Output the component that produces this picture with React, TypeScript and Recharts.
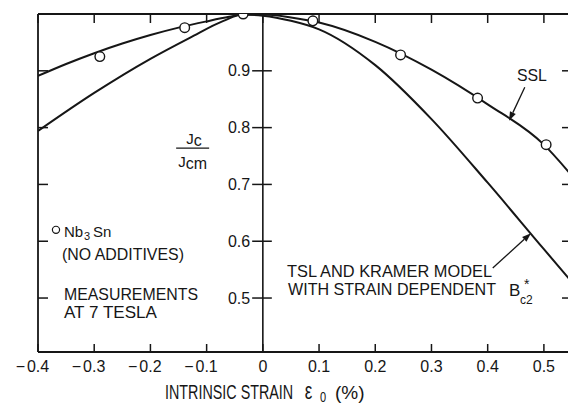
import React from 'react';
import {
  ComposedChart,
  Line,
  Scatter,
  XAxis,
  YAxis,
  ReferenceLine,
  ReferenceDot,
} from 'recharts';

// axis ticks: intrinsic strain (%) and Jc/Jcm
const strainTicks = [-0.4, -0.3, -0.2, -0.1, 0, 0.1, 0.2, 0.3, 0.4, 0.5];
const jcTicks = [0.5, 0.6, 0.7, 0.8, 0.9];

// SSL curve
const sslStrain = [-0.4, -0.35, -0.3, -0.25, -0.2, -0.15, -0.1, -0.06, -0.035, 0, 0.05, 0.1, 0.2, 0.3, 0.4, 0.5, 0.55];
const sslJc = [0.891, 0.912, 0.931, 0.948, 0.963, 0.976, 0.987, 0.995, 0.999, 0.999, 0.994, 0.985, 0.951, 0.902, 0.841, 0.77, 0.715];

// TSL and Kramer model with strain dependent Bc2*
const tslStrain = [-0.4, -0.3, -0.2, -0.13, -0.07, -0.035, 0, 0.05, 0.1, 0.2, 0.3, 0.4, 0.5, 0.55];
const tslJc = [0.794, 0.861, 0.921, 0.958, 0.988, 0.999, 0.997, 0.988, 0.973, 0.91, 0.815, 0.703, 0.586, 0.528];

// Nb3Sn (no additives), measured at 7 T
const measStrain = [-0.29, -0.139, -0.035, 0.089, 0.245, 0.382, 0.504];
const measJc = [0.925, 0.976, 1.0, 0.988, 0.928, 0.852, 0.77];

const INK = '#161616';
const FONT = "'Liberation Sans', Arial, sans-serif";

const toRows = (xs: number[], ys: number[]) => xs.map((x, i) => ({ strain: x, jc: ys[i] }));
const sslData = toRows(sslStrain, sslJc);
const tslData = toRows(tslStrain, tslJc);
const measData = toRows(measStrain, measJc);

const txt = { fontFamily: FONT, fill: INK };

const BottomTick = ({ x, y, payload }: any) => {
  const v = payload.value as number;
  return (
    <g>
      <line x1={x} y1={y} x2={x} y2={y - 8} stroke={INK} strokeWidth={1.5} />
      {v < 0 && (
        <text x={x - 13} y={y + 20} textAnchor="end" fontSize={16} {...txt}>
          −
        </text>
      )}
      <text x={x} y={y + 20} textAnchor="middle" fontSize={16} {...txt}>
        {Math.abs(v)}
      </text>
    </g>
  );
};

const TopTick = ({ x, y }: any) => (
  <line x1={x} y1={y} x2={x} y2={y + 9} stroke={INK} strokeWidth={1.5} />
);

const LeftTick = ({ x, y }: any) => (
  <line x1={x} y1={y} x2={x + 10} y2={y} stroke={INK} strokeWidth={1.5} />
);

const RightTick = ({ x, y }: any) => (
  <line x1={x} y1={y} x2={x - 10} y2={y} stroke={INK} strokeWidth={1.5} />
);

// arrow drawn between the two segment ends
const Arrow = (p: any) => {
  const { x1, y1, x2, y2 } = p;
  const a = Math.atan2(y2 - y1, x2 - x1);
  const bx = x2 - 9 * Math.cos(a);
  const by = y2 - 9 * Math.sin(a);
  const nx = -Math.sin(a) * 3.2;
  const ny = Math.cos(a) * 3.2;
  return (
    <g>
      <line x1={x1} y1={y1} x2={bx} y2={by} stroke={INK} strokeWidth={1.3} />
      <polygon points={`${x2},${y2} ${bx + nx},${by + ny} ${bx - nx},${by - ny}`} fill={INK} />
    </g>
  );
};

const Note = ({ viewBox, children }: any) => (
  <g transform={`translate(${viewBox.x},${viewBox.y})`}>{children}</g>
);

// condensed axis title
const XTitle = ({ viewBox }: any) => (
  <g>
    <text
      transform={`translate(${viewBox.x + 127},${viewBox.y + 47}) scale(0.735,1)`}
      fontSize={19.5}
      {...txt}
    >
      INTRINSIC STRAIN
      <tspan x={190} fontSize={23}>ε</tspan>
      <tspan x={211} dy={3} fontSize={15}>0</tspan>
    </text>
    <text x={viewBox.x + 297} y={viewBox.y + 47} fontSize={19} {...txt}>
      (%)
    </text>
  </g>
);

const App: React.FC = () => {
  return (
    <div
      style={{
        position: 'absolute',
        left: 0,
        top: 0,
        width: 568,
        height: 405,
        overflow: 'hidden',
        background: '#fff',
      }}
    >
      <ComposedChart
        width={600}
        height={405}
        margin={{ top: 13, right: 27, bottom: 52, left: 37 }}
      >
        <XAxis
          dataKey="strain"
          type="number"
          domain={[-0.4, 0.55]}
          allowDataOverflow
          ticks={strainTicks}
          interval={0}
          height={1}
          tickLine={false}
          tickSize={0}
          tickMargin={0}
          axisLine={{ stroke: INK, strokeWidth: 1.8 }}
          tick={<BottomTick />}
          label={<XTitle />}
        />
        <XAxis
          xAxisId="top"
          orientation="top"
          dataKey="strain"
          type="number"
          domain={[-0.4, 0.55]}
          allowDataOverflow
          ticks={strainTicks}
          interval={0}
          height={1}
          tickLine={false}
          tickSize={0}
          tickMargin={0}
          axisLine={{ stroke: INK, strokeWidth: 1.8 }}
          tick={<TopTick />}
        />
        <YAxis
          dataKey="jc"
          type="number"
          domain={[0.405, 1]}
          allowDataOverflow
          ticks={jcTicks}
          interval={0}
          width={1}
          tickLine={false}
          tickSize={0}
          tickMargin={0}
          axisLine={{ stroke: INK, strokeWidth: 1.8 }}
          tick={<LeftTick />}
        />
        <YAxis
          yAxisId="right"
          orientation="right"
          dataKey="jc"
          type="number"
          domain={[0.405, 1]}
          allowDataOverflow
          ticks={jcTicks}
          interval={0}
          width={1}
          tickLine={false}
          tickSize={0}
          tickMargin={0}
          axisLine={{ stroke: INK, strokeWidth: 1.8 }}
          tick={<RightTick />}
        />

        {/* inner Jc/Jcm axis at zero strain */}
        <ReferenceLine x={0} stroke={INK} strokeWidth={1.6} />
        {jcTicks.map((v) => (
          <ReferenceLine
            key={v}
            segment={[
              { x: -0.019, y: v },
              { x: 0.016, y: v },
            ]}
            stroke={INK}
            strokeWidth={1.5}
            label={{ value: String(v), position: 'left', offset: 2, fontSize: 16, fill: INK, fontFamily: FONT }}
          />
        ))}

        <Line
          data={sslData}
          dataKey="jc"
          type="monotone"
          stroke={INK}
          strokeWidth={2}
          dot={false}
          activeDot={false}
          isAnimationActive={false}
        />
        <Line
          data={tslData}
          dataKey="jc"
          type="monotone"
          stroke={INK}
          strokeWidth={2}
          dot={false}
          activeDot={false}
          isAnimationActive={false}
        />
        <Scatter
          data={measData}
          dataKey="jc"
          isAnimationActive={false}
          shape={(p: any) => (
            <circle cx={p.cx} cy={p.cy} r={4.8} fill="#fff" stroke={INK} strokeWidth={1.4} />
          )}
        />

        {/* arrows */}
        <ReferenceLine
          segment={[
            { x: 0.466, y: 0.871 },
            { x: 0.438, y: 0.812 },
          ]}
          shape={<Arrow />}
        />
        <ReferenceLine
          segment={[
            { x: 0.409, y: 0.553 },
            { x: 0.477, y: 0.614 },
          ]}
          shape={<Arrow />}
        />

        {/* SSL label */}
        <ReferenceDot
          x={0.452}
          y={0.882}
          r={0}
          label={
            <Note>
              <text x={0} y={0} fontSize={17} textLength={30} lengthAdjust="spacingAndGlyphs" {...txt}>
                SSL
              </text>
            </Note>
          }
        />

        {/* Jc / Jcm */}
        <ReferenceDot
          x={-0.124}
          y={0.764}
          r={0}
          label={
            <Note>
              <text x={-7} y={-4} fontSize={15} {...txt}>
                J<tspan dy={2} fontSize={16}>c</tspan>
              </text>
              <line x1={-17} y1={0} x2={16} y2={0} stroke={INK} strokeWidth={1.2} />
              <text x={-15} y={19} fontSize={15} {...txt}>
                J<tspan dy={2} fontSize={16}>cm</tspan>
              </text>
            </Note>
          }
        />

        {/* legend block */}
        <ReferenceDot
          x={-0.368}
          y={0.62}
          r={0}
          label={
            <Note>
              <circle cx={0} cy={0} r={3.6} fill="#fff" stroke={INK} strokeWidth={1.2} />
              <text x={8} y={7} fontSize={15} {...txt}>
                Nb
                <tspan x={28} dy={3} fontSize={11}>3</tspan>
                <tspan x={37} dy={-3}>Sn</tspan>
              </text>
              <text x={6} y={30} fontSize={17} textLength={122} lengthAdjust="spacingAndGlyphs" {...txt}>
                (NO ADDITIVES)
              </text>
              <text x={8} y={70} fontSize={17} textLength={134} lengthAdjust="spacingAndGlyphs" {...txt}>
                MEASUREMENTS
              </text>
              <text x={8} y={88} fontSize={17} textLength={93} lengthAdjust="spacingAndGlyphs" {...txt}>
                AT 7 TESLA
              </text>
            </Note>
          }
        />

        {/* model label */}
        <ReferenceDot
          x={0.043}
          y={0.537}
          r={0}
          label={
            <Note>
              <text x={0} y={0} fontSize={17} textLength={205} lengthAdjust="spacingAndGlyphs" {...txt}>
                TSL AND KRAMER MODEL
              </text>
              <text x={1} y={18} fontSize={17} textLength={208} lengthAdjust="spacingAndGlyphs" {...txt}>
                WITH STRAIN DEPENDENT
              </text>
              <text x={222} y={19} fontSize={17} {...txt}>B</text>
              <text x={237} y={12} fontSize={14} {...txt}>*</text>
              <text x={233} y={27} fontSize={12} {...txt}>c2</text>
            </Note>
          }
        />
      </ComposedChart>
    </div>
  );
};

export default App;
